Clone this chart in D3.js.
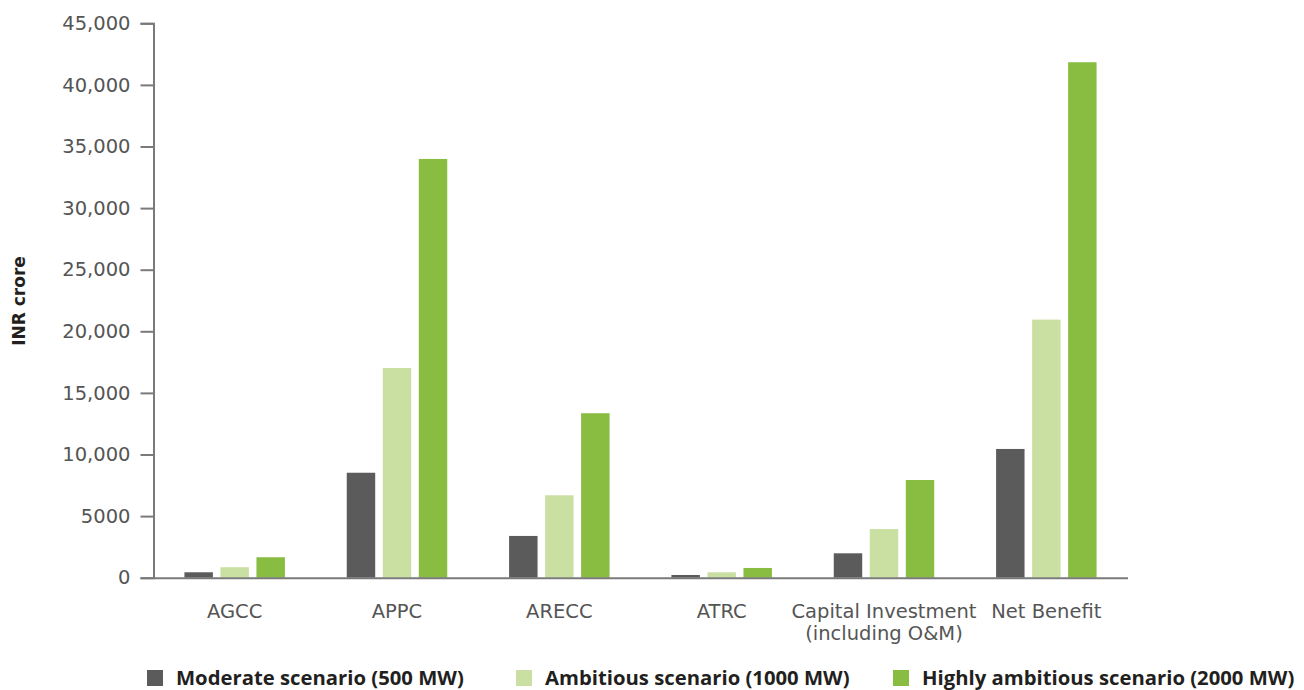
<!DOCTYPE html>
<html>
<head>
<meta charset="utf-8">
<script src="https://cdn.jsdelivr.net/npm/d3@7/dist/d3.min.js"></script>
<style>
  html, body { margin: 0; padding: 0; background: #fff; }
  svg { display: block; }
</style>
</head>
<body>
<svg id="chart" width="1304" height="690"></svg>
<script>
// Cost and benefit components, INR crore
const categories = ["AGCC", "APPC", "ARECC", "ATRC", "Capital Investment\n(including O&M)", "Net Benefit"];
const seriesNames = ["Moderate scenario (500 MW)", "Ambitious scenario (1000 MW)", "Highly ambitious scenario (2000 MW)"];
const moderate = [440, 8520, 3390, 220, 1980, 10450];
const ambitious = [850, 17020, 6690, 440, 3950, 20950];
const highlyAmbitious = [1660, 33990, 13350, 790, 7930, 41840];
const yTicks = [0, 5000, 10000, 15000, 20000, 25000, 30000, 35000, 40000, 45000];
const colors = ["#5b5b5c", "#cae0a3", "#88bd41"];

const seriesValues = [moderate, ambitious, highlyAmbitious];

const svg = d3.select("#chart");
const margin = { left: 153.5, right: 1127.5, top: 23.3, bottom: 577.7 };

const x0 = d3.scaleBand()
  .domain(categories)
  .range([margin.left, margin.right])
  .paddingInner(0.381)
  .paddingOuter(0.1905);

const x1 = d3.scaleBand()
  .domain(d3.range(seriesNames.length))
  .range([0, x0.bandwidth()])
  .paddingInner(0.21);

const y = d3.scaleLinear()
  .domain([0, 45000])
  .range([margin.bottom, margin.top]);

const fmt = v => v === 5000 ? "5000" : d3.format(",")(v);

// Bars
const groups = svg.append("g").selectAll("g")
  .data(categories)
  .join("g")
  .attr("transform", d => `translate(${x0(d)},0)`);

groups.selectAll("rect")
  .data((d, i) => seriesValues.map((s, k) => ({ k, v: s[i] })))
  .join("rect")
  .attr("x", d => x1(d.k))
  .attr("width", x1.bandwidth())
  .attr("y", d => y(d.v))
  .attr("height", d => y(0) - y(d.v))
  .attr("fill", d => colors[d.k]);

// Y axis
const yAxis = svg.append("g")
  .attr("transform", `translate(${margin.left},0)`)
  .call(d3.axisLeft(y).tickValues(yTicks).tickFormat(fmt).tickSize(13).tickPadding(10));
yAxis.select(".domain").attr("stroke", "#7a7a7a").attr("stroke-width", 2);
yAxis.selectAll(".tick line").attr("stroke", "#7a7a7a").attr("stroke-width", 2);
yAxis.selectAll(".tick text")
  .attr("fill", "#555")
  .style("font-family", "'DejaVu Sans', sans-serif")
  .style("font-size", "19.5px");

// X axis
const xAxis = svg.append("g")
  .attr("transform", `translate(0,${margin.bottom})`)
  .call(d3.axisBottom(x0).tickSize(0).tickSizeOuter(0).tickPadding(0).tickFormat(""));
xAxis.select(".domain").attr("stroke", "#7a7a7a").attr("stroke-width", 2);
xAxis.selectAll(".tick").each(function(d) {
  const lines = d.split("\n");
  const t = d3.select(this).append("text")
    .attr("fill", "#555")
    .attr("text-anchor", "middle")
    .style("font-family", "'DejaVu Sans', sans-serif")
    .style("font-size", "19.5px");
  lines.forEach((ln, i) => {
    t.append("tspan").attr("x", 0).attr("y", 40 + i * 22).text(ln);
  });
});

// Y axis title
svg.append("text")
  .attr("transform", "translate(25,301) rotate(-90)")
  .attr("text-anchor", "middle")
  .attr("fill", "#231f20")
  .style("font-family", "'DejaVu Sans', sans-serif")
  .style("font-weight", "700")
  .style("font-size", "17px")
  .text("INR crore");

// Legend
const legendX = [147, 516, 893];
const legend = svg.append("g").selectAll("g")
  .data(seriesNames)
  .join("g")
  .attr("transform", (d, i) => `translate(${legendX[i]},670)`);
legend.append("rect")
  .attr("width", 16).attr("height", 16)
  .attr("fill", (d, i) => colors[i]);
legend.append("text")
  .attr("x", 29).attr("y", 15)
  .attr("fill", "#231f20")
  .style("font-family", "'Open Sans', sans-serif")
  .style("font-weight", "700")
  .style("font-size", "20.3px")
  .text(d => d);
</script>
</body>
</html>
